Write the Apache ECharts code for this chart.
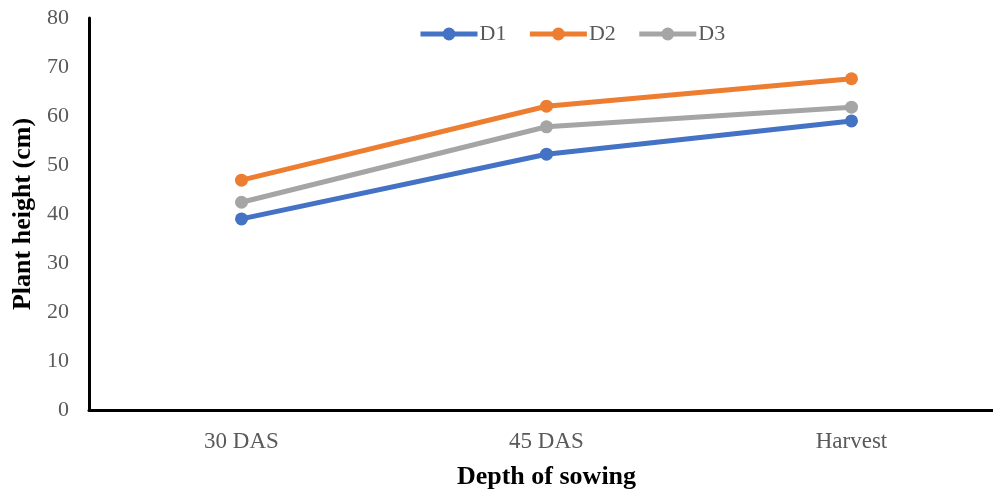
<!DOCTYPE html>
<html><head><meta charset="utf-8">
<script src="https://cdn.jsdelivr.net/npm/echarts@6/dist/echarts.min.js"></script>
<style>html,body{margin:0;padding:0;background:#fff}#c{width:993px;height:490px}</style>
</head><body><div id="c"></div>
<script>
const categories = ['30 DAS', '45 DAS', 'Harvest'];
const D1 = [39.0, 52.2, 59.0];
const D2 = [46.9, 62.0, 67.6];
const D3 = [42.4, 57.8, 61.8];
const yTicks = [0, 10, 20, 30, 40, 50, 60, 70, 80];

const font = 'Liberation Serif, Times New Roman, serif';
const chart = echarts.init(document.getElementById('c'));
const mk = (name, data, color) => ({
  name, type: 'line', data, symbol: 'circle', symbolSize: 13,
  lineStyle: { width: 5, color }, itemStyle: { color }
});
chart.setOption({
  animation: false,
  textStyle: { fontFamily: font },
  legend: {
    top: 18, left: 413, itemWidth: 57, itemHeight: 16, itemGap: 21,
    lineStyle: { width: 5 },
    textStyle: { fontSize: 22, color: '#595959', fontFamily: font, padding: [0, 0, 0, -3] },
    data: ['D1', 'D2', 'D3']
  },
  grid: { left: 89, right: -11, top: 18, bottom: 80, containLabel: false, outerBoundsMode: 'none' },
  xAxis: {
    type: 'category', data: categories,
    axisLine: { lineStyle: { color: '#000', width: 3 } },
    axisTick: { show: false },
    axisLabel: { fontSize: 23, color: '#595959', margin: 20, fontFamily: font },
    name: 'Depth of sowing', nameLocation: 'middle', nameGap: 54,
    nameTextStyle: { fontSize: 26, fontWeight: 'bold', color: '#000', fontFamily: font }
  },
  yAxis: {
    type: 'value', min: yTicks[0], max: yTicks[yTicks.length - 1], interval: 10,
    axisLine: { show: true, lineStyle: { color: '#000', width: 3 } },
    axisTick: { show: false },
    splitLine: { show: false },
    axisLabel: { fontSize: 22, color: '#595959', margin: 20, fontFamily: font },
    name: 'Plant height (cm)', nameLocation: 'middle', nameGap: 46,
    nameTextStyle: { fontSize: 26, fontWeight: 'bold', color: '#000', fontFamily: font }
  },
  series: [mk('D1', D1, '#4472C4'), mk('D2', D2, '#ED7D31'), mk('D3', D3, '#A5A5A5')]
});
</script></body></html>
